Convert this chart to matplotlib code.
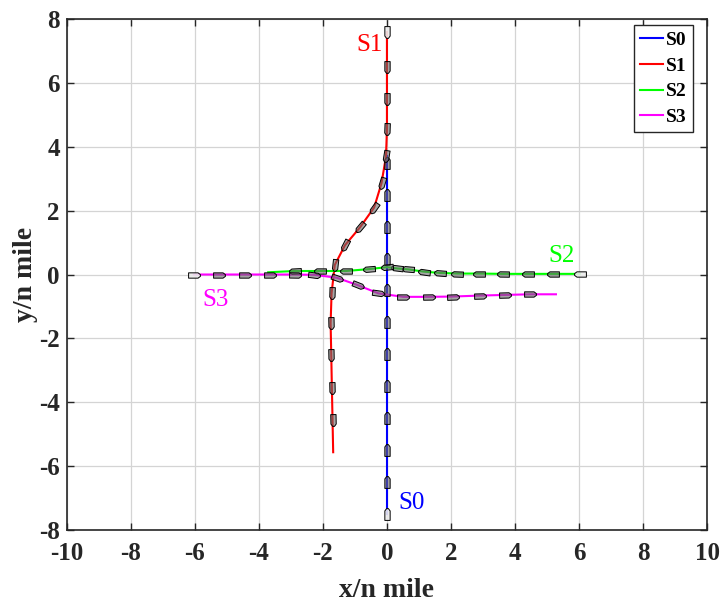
import numpy as np
import matplotlib
matplotlib.use('Agg')
from matplotlib import pyplot as plt
from matplotlib.markers import MarkerStyle
from matplotlib.path import Path
from matplotlib.transforms import Affine2D

# ship tracks in order of travel (n mile); a ship marker sits on every point but the last
s0_x = [0, 0, 0, 0, 0, 0, 0, 0, 0, 0, 0, 0, 0]
s0_y = [-7.5, -6.5, -5.5, -4.5, -3.5, -2.5, -1.5, -0.5, 0.5, 1.5, 2.5, 3.5, 3.7]

s1_x = [0, 0, 0, 0, -0.03, -0.17, -0.40, -0.84, -1.31, -1.63, -1.73, -1.76, -1.74, -1.72, -1.70, -1.68]
s1_y = [7.6, 6.5, 5.5, 4.55, 3.7, 2.86, 2.1, 1.48, 0.92, 0.3, -0.59, -1.53, -2.52, -3.57, -4.56, -5.57]

s2_x = [6.03, 5.2, 4.4, 3.62, 2.87, 2.2, 1.65, 1.15, 0.67, 0.32, 0.0, -0.56, -1.28, -2.1, -2.88, -3.71]
s2_y = [0.02, 0.02, 0.02, 0.02, 0.03, 0.03, 0.05, 0.09, 0.16, 0.19, 0.23, 0.17, 0.11, 0.11, 0.11, 0.07]

s3_x = [-6.03, -5.24, -4.42, -3.64, -2.88, -2.27, -1.57, -0.92, -0.27, 0.51, 1.31, 2.07, 2.9, 3.69, 4.47, 5.28]
s3_y = [0.0, 0.0, 0.0, 0.0, 0.0, -0.01, -0.1, -0.33, -0.59, -0.7, -0.7, -0.69, -0.66, -0.64, -0.62, -0.62]

names = ['S0', 'S1', 'S2', 'S3']
colors = ['#0000ff', '#ff0000', '#00ff00', '#ff00ff']
tags = [(0.78, -7.15), (-0.55, 7.2), (5.47, 0.58), (-5.34, -0.8)]

plt.rcParams['font.family'] = ['Liberation Serif', 'DejaVu Serif']
plt.rcParams['axes.unicode_minus'] = False

ship = Path([(-1, -0.45), (0.6, -0.45), (1, -0.15), (1, 0.15), (0.6, 0.45), (-1, 0.45), (-1, -0.45)],
            [Path.MOVETO] + [Path.LINETO] * 5 + [Path.CLOSEPOLY])

fig = plt.figure(figsize=(7.27, 6.02), dpi=100)
ax = fig.add_axes([0.092, 0.12, 0.8805, 0.848])

tracks = [(s0_x, s0_y), (s1_x, s1_y), (s2_x, s2_y), (s3_x, s3_y)]
for (xs, ys), name, c in zip(tracks, names, colors):
    ax.plot(xs, ys, color=c, lw=1.5, label=name, zorder=3)

for (xs, ys), c in zip(tracks, colors):
    xs = np.asarray(xs, float)
    ys = np.asarray(ys, float)
    for i in range(len(xs) - 1):
        ang = np.degrees(np.arctan2(ys[i + 1] - ys[i], xs[i + 1] - xs[i]))
        mk = MarkerStyle(ship, transform=Affine2D().rotate_deg(ang))
        face = (0.92, 0.92, 0.92, 0.9) if i == 0 else (0.42, 0.42, 0.42, 0.6)
        ax.plot(xs[i], ys[i], marker=mk, ms=8.5, mfc=face, mec='k', mew=0.7,
                ls='none', zorder=4)

for (tx, ty), name, c in zip(tags, names, colors):
    ax.text(tx, ty, name, color=c, fontsize=18, ha='center', va='center')

ax.set_xlim(-10, 10)
ax.set_ylim(-8, 8)
ax.set_xticks(np.arange(-10, 11, 2))
ax.set_yticks(np.arange(-8, 9, 2))
ax.grid(True, color='#d4d4d4', lw=0.9)
ax.set_axisbelow(True)
ax.tick_params(direction='in', length=5, width=1, top=True, right=True,
               labelsize=18, colors='#262626')
ax.tick_params(axis='x', pad=9)
ax.tick_params(axis='y', pad=5)
for lab in ax.get_xticklabels() + ax.get_yticklabels():
    lab.set_fontweight('bold')
for sp in ax.spines.values():
    sp.set_linewidth(1.2)
    sp.set_color('#262626')

ax.set_xlabel('x/n mile', fontsize=20, fontweight='bold', labelpad=9, color='#262626')
ax.set_ylabel('y/n mile', fontsize=20, fontweight='bold', labelpad=1, color='#262626')

leg = ax.legend(loc='upper right', bbox_to_anchor=(0.978, 0.988),
                prop={'size': 14, 'weight': 'bold'}, handlelength=1.2,
                handletextpad=0.15, borderpad=0.3, labelspacing=0.42,
                borderaxespad=0, fancybox=False, framealpha=1)
leg.get_frame().set_edgecolor('#262626')
leg.get_frame().set_linewidth(1.0)

fig.savefig('out.png', dpi=100)
